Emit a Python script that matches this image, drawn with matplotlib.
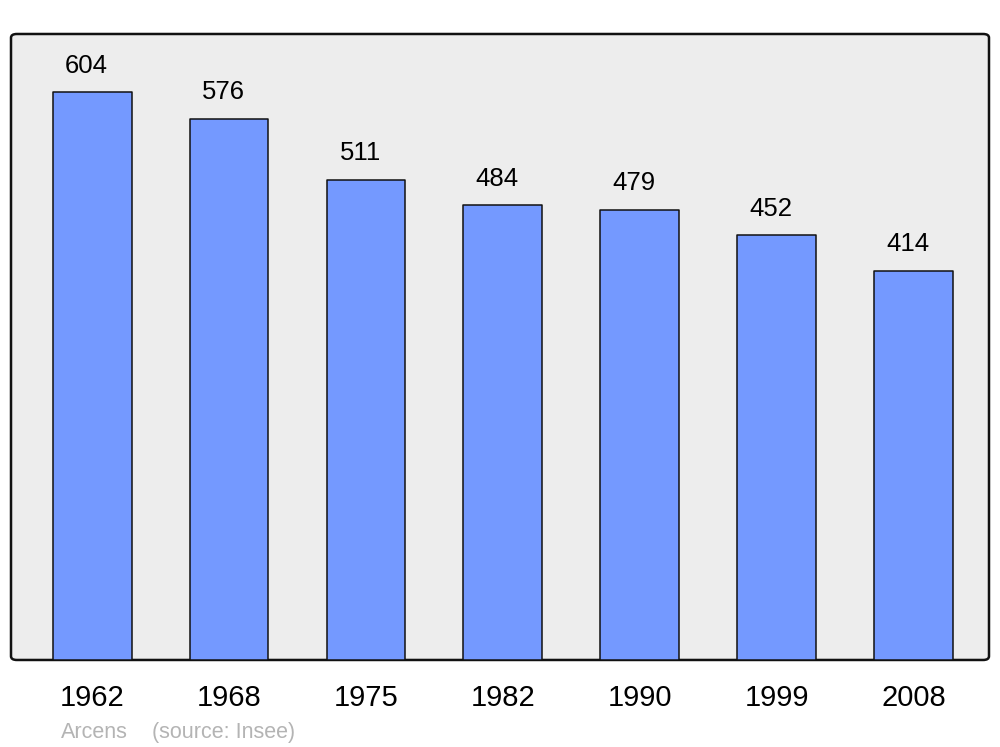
import matplotlib.pyplot as plt
from matplotlib.patches import FancyBboxPatch

# données
annees = ['1962', '1968', '1975', '1982', '1990', '1999', '2008']
population = [604, 576, 511, 484, 479, 452, 414]

plt.rcParams['font.family'] = ['Liberation Sans', 'DejaVu Sans']

fig = plt.figure(figsize=(10, 7.47), dpi=100)
ax = fig.add_axes([0.011, 0.1165, 0.978, 0.838])
ax.set_facecolor('none')

# fond gris à coins arrondis
fond = FancyBboxPatch((0, 0), 1, 1,
                      boxstyle="round,pad=0,rounding_size=0.006",
                      transform=ax.transAxes, facecolor='#ededed',
                      edgecolor='#111111', linewidth=1.8, zorder=0,
                      clip_on=False)
ax.add_patch(fond)

x = range(len(annees))
ax.bar(x, population, width=0.575, color='#7499ff', edgecolor='#111111',
       linewidth=1.1, joinstyle='round', zorder=2)

# étiquettes au-dessus des barres
for i, v in enumerate(population):
    ax.annotate(str(v), (i, v), textcoords='offset points', xytext=(-4, 19),
                ha='center', va='center', fontsize=18.5)

ax.set_xlim(-0.593, 6.552)
ax.set_ylim(0, 666)
ax.set_xticks(list(x))
ax.set_xticklabels(annees, fontsize=21)
ax.tick_params(axis='x', length=0, pad=17)
ax.set_yticks([])
for s in ax.spines.values():
    s.set_visible(False)

fig.text(0.061, 0.012, 'Arcens', color='#b4b4b4', fontsize=15.5)
fig.text(0.152, 0.012, '(source: Insee)', color='#b4b4b4', fontsize=15.5)

fig.savefig('out.png', dpi=100)
